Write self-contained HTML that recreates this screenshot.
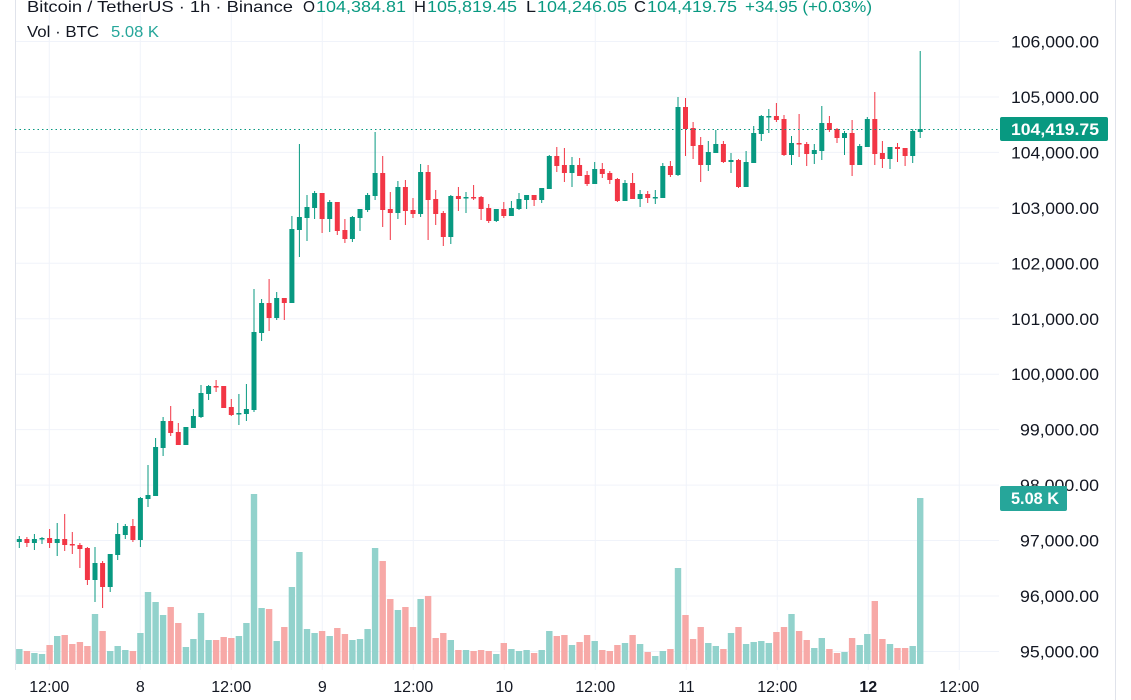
<!DOCTYPE html>
<html><head><meta charset="utf-8"><style>
html,body{margin:0;padding:0;background:#fff;width:1131px;height:700px;overflow:hidden;font-family:"Liberation Sans",sans-serif}
</style></head><body>
<svg id="s" width="1131" height="700" xmlns="http://www.w3.org/2000/svg" style="position:absolute;left:0;top:0"></svg>
<script>
var C=[
[539,542,536,548,'g'],[539,543,537,547,'r'],[539,543,534,550,'g'],[538,539,537,544,'g'],[538,543,529,548,'r'],
[539,543,523,556,'g'],[539,545,514,551,'r'],[544,545,532,554,'r'],[545,549,543,568,'r'],[548,580,547,585,'r'],
[563,580,547,602,'g'],[563,587,561,608,'r'],[554,587,554,592,'g'],[534,555,523,560,'g'],[526,535,524,539,'g'],
[526,540,519,542,'r'],[498,540,497,547,'g'],[495,499,465,507,'g'],[447,496,438,496,'g'],[421,448,417,456,'g'],
[421,433,406,436,'r'],[432,445,423,445,'r'],[427,445,427,445,'g'],[416,428,409,428,'g'],[393,417,385,418,'g'],
[386,394,385,400,'g'],[386,387,380,392,'r'],[386,408,386,408,'r'],[407,415,399,416,'r'],[413,414,394,425,'g'],
[409,414,384,421,'g'],[332,410,289,412,'g'],[303,333,299,341,'g'],[303,318,279,331,'r'],[298,318,292,320,'g'],
[298,303,298,320,'r'],[229,303,216,303,'g'],[217,230,144,257,'g'],[207,218,195,241,'g'],[193,208,191,219,'g'],
[193,219,193,233,'r'],[202,219,200,232,'g'],[202,231,202,235,'r'],[230,239,219,243,'r'],[217,239,216,242,'g'],
[209,218,209,231,'g'],[195,210,193,212,'g'],[173,196,132,200,'g'],[173,210,156,227,'r'],[209,213,192,240,'r'],
[187,213,181,219,'g'],[187,211,180,225,'r'],[210,214,198,218,'r'],[172,214,164,217,'g'],[172,200,165,240,'r'],
[199,214,190,225,'r'],[213,237,211,246,'r'],[196,237,195,244,'g'],[196,199,187,211,'r'],[197,198,192,213,'g'],
[197,198,185,200,'r'],[197,209,196,220,'r'],[208,221,204,223,'r'],[209,221,209,222,'g'],[209,216,202,218,'r'],
[208,216,201,216,'g'],[199,209,193,210,'g'],[195,200,195,209,'g'],[195,200,195,206,'r'],[188,200,188,203,'g'],
[156,189,155,189,'g'],[156,166,147,172,'r'],[165,173,148,182,'r'],[165,173,157,187,'g'],[165,176,158,176,'r'],
[175,184,171,186,'r'],[169,184,162,184,'g'],[169,174,163,178,'r'],[173,180,171,184,'r'],[179,201,178,202,'r'],
[183,201,180,201,'g'],[183,199,173,199,'r'],[194,199,190,207,'g'],[194,198,191,203,'r'],[197,198,190,204,'g'],
[166,198,163,198,'g'],[166,175,161,177,'r'],[107,175,97,176,'g'],[107,129,98,156,'r'],[128,146,122,159,'r'],
[145,165,137,182,'r'],[152,165,141,171,'g'],[144,153,130,153,'g'],[144,162,141,163,'r'],[160,162,153,173,'g'],
[160,187,159,188,'r'],[162,187,151,187,'g'],[133,163,126,163,'g'],[116,134,115,141,'g'],[116,117,109,133,'g'],
[116,120,103,122,'r'],[119,155,115,156,'r'],[143,155,136,165,'g'],[143,144,114,157,'r'],[144,154,142,166,'r'],
[150,154,144,164,'g'],[123,151,106,160,'g'],[123,130,116,132,'r'],[129,138,128,143,'r'],[133,138,131,155,'g'],
[133,165,120,176,'r'],[146,165,144,165,'g'],[119,147,117,147,'g'],[119,154,92,165,'r'],[153,159,141,168,'r'],
[147,159,147,169,'g'],[147,149,143,162,'r'],[148,156,148,166,'r'],[131,156,129,163,'g'],[129,132,51,138,'g']];
var V=[649,651,653,654,645,636,635,644,642,646,614,631,651,646,650,651,633,592,602,615,607,623,647,639,613,640,640,637,638,636,623,494,
608,609,641,627,587,552,629,633,631,636,628,634,640,639,629,548,561,599,610,607,627,599,596,638,633,640,650,650,651,650,651,654,643,649,651,650,653,650,631,636,635,645,642,635,641,
650,651,645,643,635,644,652,656,651,649,568,615,639,627,643,646,649,633,627,644,642,641,643,632,627,614,631,640,648,638,649,653,652,638,645,634,601,639,644,648,648,646,498];
var h='';
var G='#089981',R='#f23645',GV='#92d2cc',RV='#f7a9a7',grid='#f0f3fa';
var F='font-family="Liberation Sans" ';
for(var k=0;k<=11;k++){var y=41.5+55.45*k;h+='<line x1="15" x2="999" y1="'+y+'" y2="'+y+'" stroke="'+grid+'" stroke-width="1"/>';}
for(var k=0;k<11;k++){var x=49.3+91*k;h+='<line x1="'+x+'" x2="'+x+'" y1="0" y2="670" stroke="'+grid+'" stroke-width="1"/>';}
h+='<line x1="15.5" x2="15.5" y1="0" y2="670" stroke="#e0e3eb"/>';
h+='<line x1="1115.5" x2="1115.5" y1="0" y2="700" stroke="#e0e3eb"/>';
for(var i=0;i<V.length;i++){var x=19.3+7.571*i;var c=C[i][4]=='g'?GV:RV;h+='<rect x="'+(x-3.2).toFixed(1)+'" y="'+V[i]+'" width="6.4" height="'+(664-V[i])+'" fill="'+c+'"/>';}
for(var i=0;i<C.length;i++){var d=C[i],x=19.3+7.571*i,c=d[4]=='g'?G:R;
h+='<rect x="'+(x-0.5).toFixed(1)+'" y="'+d[2]+'" width="1" height="'+Math.max(1,d[3]-d[2])+'" fill="'+c+'"/>';
h+='<rect x="'+(x-2.5).toFixed(1)+'" y="'+d[0]+'" width="5" height="'+Math.max(1.5,d[1]-d[0])+'" fill="'+c+'"/>';}
h+='<line x1="15" x2="1000" y1="129.5" y2="129.5" stroke="'+G+'" stroke-dasharray="1.5 3" stroke-width="1"/>';
var P=['106,000.00','105,000.00','104,000.00','103,000.00','102,000.00','101,000.00','100,000.00','99,000.00','98,000.00','97,000.00','96,000.00','95,000.00'];
for(var k=0;k<12;k++){var y=41.5+55.45*k;var tl=P[k].length==10?88:79;h+='<text x="'+(1099-tl)+'" y="'+(y+6)+'" font-size="17" textLength="'+tl+'" lengthAdjust="spacingAndGlyphs" fill="#131722" '+F+'>'+P[k]+'</text>';}
h+='<rect x="1000" y="117" width="108" height="24" rx="2" fill="'+G+'"/><text x="1011" y="135" font-size="17" font-weight="bold" textLength="88" lengthAdjust="spacingAndGlyphs" fill="#fff" '+F+'>104,419.75</text>';
h+='<rect x="1000" y="486" width="67" height="25" rx="2" fill="#26a69a"/><text x="1011" y="504" font-size="17" font-weight="bold" textLength="48" lengthAdjust="spacingAndGlyphs" fill="#fff" '+F+'>5.08 K</text>';
var T=['12:00','8','12:00','9','12:00','10','12:00','11','12:00','12','12:00'];
for(var k=0;k<11;k++){var x=49.3+91*k;var b=(k==9);h+='<text x="'+x+'" y="692" text-anchor="middle" font-size="16" '+(b?'font-weight="bold" ':'')+'fill="#131722" '+F+'>'+T[k]+'</text>';}
function t(x,y,w,s,col){return '<text x="'+x+'" y="'+y+'" font-size="16" textLength="'+w+'" lengthAdjust="spacingAndGlyphs" fill="'+col+'" '+F+'>'+s+'</text>';}
h+=t(27,12,266,'Bitcoin / TetherUS · 1h · Binance','#131722');
h+=t(303,12,12,'O','#131722')+t(316,12,90,'104,384.81',G);
h+=t(414,12,12,'H','#131722')+t(427,12,90,'105,819.45',G);
h+=t(526,12,10,'L','#131722')+t(537,12,90,'104,246.05',G);
h+=t(634,12,12,'C','#131722')+t(647,12,90,'104,419.75',G);
h+=t(745,12,127,'+34.95 (+0.03%)',G);
h+=t(27,37,72,'Vol · BTC','#131722')+t(111,37,48,'5.08 K','#26a69a');
document.getElementById('s').innerHTML=h;
</script>
</body></html>
